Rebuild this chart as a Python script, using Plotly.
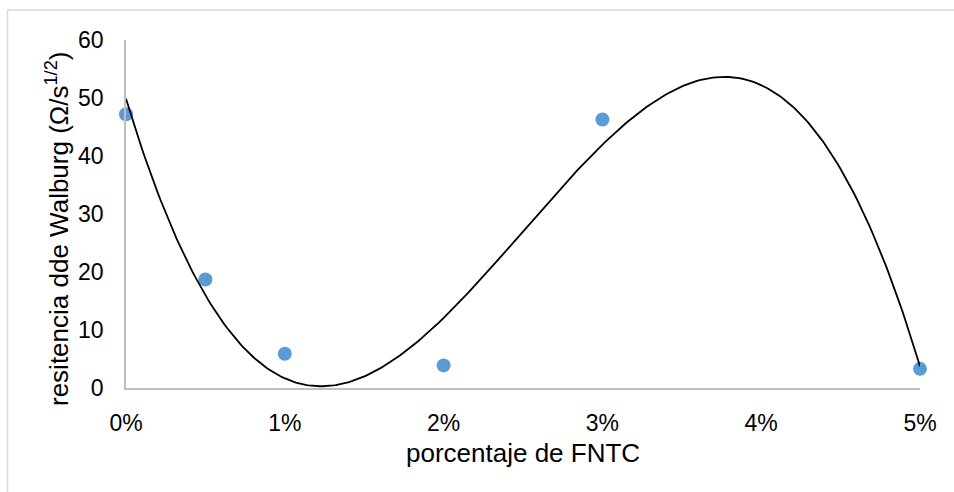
import numpy as np
import plotly.graph_objects as go

# data (percentage of FNTC vs Warburg resistance)
fntc_pct = [0, 0.5, 1, 2, 3, 5]
walburg = [47.2, 18.7, 5.9, 3.9, 46.3, 3.3]
x_ticks = [0, 1, 2, 3, 4, 5]
x_tick_labels = ["0%", "1%", "2%", "3%", "4%", "5%"]
y_ticks = [0, 10, 20, 30, 40, 50, 60]

# cubic polynomial trendline fitted to the data
coef = np.polyfit(fntc_pct, walburg, 3)
xs = np.linspace(0, 5, 300)
ys = np.polyval(coef, xs)

W, H = 954, 492
L, T = 126, 40
R = W - 920
B = H - 388
pw, ph = W - L - R, H - T - B

def px(xp):  # window pixel -> paper x
    return (xp - L) / pw

def py(yp):  # window pixel -> paper y
    return (H - B - yp) / ph

fig = go.Figure()
fig.add_trace(go.Scatter(x=fntc_pct, y=walburg, mode="markers",
                         marker=dict(color="#5B9BD5", size=14),
                         cliponaxis=False, showlegend=False))
fig.add_trace(go.Scatter(x=xs, y=ys, mode="lines",
                         line=dict(color="black", width=1.8),
                         cliponaxis=False, showlegend=False))

fig.update_layout(
    width=W, height=H,
    margin=dict(l=L, r=R, t=T, b=B),
    paper_bgcolor="white", plot_bgcolor="white",
    font=dict(family="Liberation Sans, Arial, sans-serif", color="#000000"),
    xaxis=dict(range=[0, 5], tickmode="array", tickvals=x_ticks, ticktext=x_tick_labels,
               showgrid=False, zeroline=False, showline=True,
               linecolor="#BFBFBF", linewidth=1.5, ticks="",
               ticklabelstandoff=14, tickfont=dict(size=23)),
    yaxis=dict(range=[0, 60], tickvals=y_ticks,
               showgrid=False, zeroline=False, showline=True,
               linecolor="#BFBFBF", linewidth=1.5, ticks="",
               ticklabelstandoff=16, tickfont=dict(size=23)),
    shapes=[dict(type="rect", xref="paper", yref="paper",
                 x0=px(7.5), x1=px(W + 20), y0=py(H + 20), y1=py(10),
                 line=dict(color="#D9D9D9", width=1.5), layer="below")],
    annotations=[
        dict(text="porcentaje de FNTC", xref="paper", yref="paper",
             x=0.5, y=py(453), xanchor="center", yanchor="middle",
             showarrow=False, font=dict(size=26)),
        dict(text="resitencia dde Walburg (Ω/s<sup>1/2</sup>)", xref="paper", yref="paper",
             x=px(57), y=py(229), xanchor="center", yanchor="middle",
             textangle=-90, showarrow=False, font=dict(size=26)),
    ],
)

fig.write_html("out.html",
               config={"displayModeBar": False},
               post_script="document.body.style.margin='0';document.body.style.overflow='hidden';")
